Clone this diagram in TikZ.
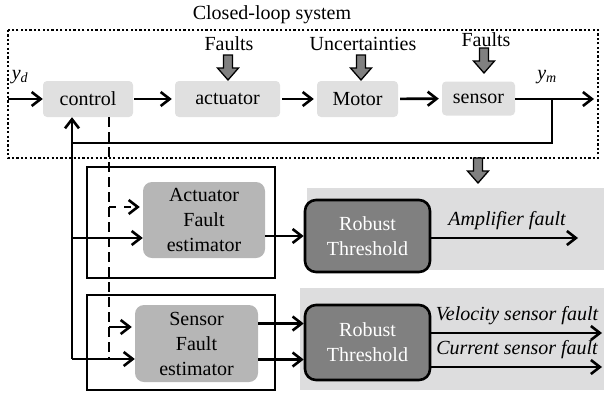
\documentclass[tikz,border=0pt]{standalone}
\usepackage{fontspec}
\setmainfont{Liberation Serif}
\usetikzlibrary{arrows.meta,calc}

\begin{document}
\begin{tikzpicture}[x=1pt, y=-1pt, font=\rmfamily\fontsize{20}{25}\selectfont,
    line/.style={line width=2.6pt},
    arr/.style={line, -{Straight Barb[length=9pt,width=14pt,line width=2.6pt]}},
    blockbox/.style={fill=boxgray, rounded corners=4pt, minimum height=36pt, inner sep=0pt},
    estbox/.style={fill=estgray, rounded corners=9pt, minimum width=122pt, minimum height=76pt, align=center, inner sep=0pt},
    threshbox/.style={draw, line width=2.6pt, fill=threshgray, text=white, rounded corners=11pt, minimum width=125pt, align=center, inner sep=0pt},
    outlbl/.style={font=\rmfamily\fontsize{20}{25}\selectfont\itshape},
    blockarrow/.pic={\draw[line width=1.3pt, fill=threshgray] (-4.5,0) -- (-4.5,13) -- (-10.5,13) -- (0,25) -- (10.5,13) -- (4.5,13) -- (4.5,0) -- cycle;}]
    % Define colors
    \definecolor{boxgray}{RGB}{224,224,224}
    \definecolor{bggray}{RGB}{221,221,222}
    \definecolor{estgray}{RGB}{182,182,182}
    \definecolor{threshgray}{RGB}{128,128,128}

    \useasboundingbox (0,0) rectangle (604,399);

    % Closed-loop system
    \node (title) at (272,15) {Closed-loop system};
    \draw[line width=2.2pt, dash pattern=on 2.2pt off 2.2pt] (8,30) rectangle (598,158);

    \node[blockbox, minimum width=90pt] (ctrl) at (88,99) {control};
    \node[blockbox, minimum width=105pt] (act) at (227.5,99) {actuator};
    \node[blockbox, minimum width=81pt] (motor) at (357.5,99) {Motor};
    \node[blockbox, minimum width=73pt, minimum height=34pt] (sens) at (478.5,98.5) {sensor};

    \node (yd) at (20,77) {\textit{y}\textsubscript{\textit{d}}};
    \node (ym) at (547,77) {\textit{y}\textsubscript{\textit{m}}};

    \coordinate (in) at (8,99);
    \coordinate (out) at (594,99);
    \draw[arr] (in) -- (ctrl.west);
    \draw[arr, shorten <=1pt, shorten >=3pt] (ctrl) -- (act);
    \draw[arr, shorten <=2pt, shorten >=3pt] (act) -- (motor);
    \draw[arr, shorten <=2pt, shorten >=3pt] (motor) -- (sens);
    \draw[arr] (sens.east |- out) -- (out);

    % Disturbances
    \node (flt1) at (229,44) {Faults};
    \node (unc) at (363,44) {Uncertainties};
    \node (flt2) at (486,40) {Faults};
    \pic at (228,55) {blockarrow};
    \pic at (361,55) {blockarrow};
    \pic at (484,48) {blockarrow};

    % Feedback
    \coordinate (tap) at (552,99);
    \coordinate (fb) at (72,143);
    \coordinate (fbend) at (72,359);
    \coordinate (fa) at (72,238);
    \draw[arr] (tap) |- (fb) -- (fb |- ctrl.south);
    \draw[line] (fb) -- (fbend);

    % Fault estimators
    \draw[line width=2.4pt] (87,167) rectangle (275,278);
    \draw[line width=2.4pt] (87,295) rectangle (275,390);
    \node[estbox] (afe) at (204,220) {Actuator\\Fault\\estimator};
    \node[estbox, minimum width=123pt, minimum height=77pt] (sfe) at (196.5,343.5) {Sensor\\Fault\\estimator};

    \draw[arr] (fa) -- (fa -| afe.west);
    \draw[arr] (fbend) -- (fbend -| sfe.west);

    \coordinate (dtop) at (109,117);
    \coordinate (dbot) at (109,359);
    \coordinate (da) at (109,207);
    \coordinate (ds) at (109,327);
    \draw[line, dash pattern=on 10pt off 5pt] (dtop) -- (dbot);
    \draw[arr, dash pattern=on 7pt off 8pt] (da) -- ($(da -| afe.west)+(-3,0)$);
    \draw[arr] (ds) -- ($(ds -| sfe.west)+(-3,0)$);

    % Robust thresholds
    \pic at (478,158) {blockarrow};
    \fill[bggray] (307,188) rectangle (604,270);
    \fill[bggray] (300,288) rectangle (604,390);
    \node[threshbox, minimum height=72pt] (rt1) at (367.5,236) {Robust\\Threshold};
    \node[threshbox, minimum height=75pt] (rt2) at (367.5,342.5) {Robust\\Threshold};

    \draw[arr] (afe.east |- rt1.west) -- (rt1.west);
    \coordinate (s1) at ([yshift=19pt]rt2.west);
    \coordinate (s2) at ([yshift=-17pt]rt2.west);
    \draw[arr] (s1 -| sfe.east) -- (s1);
    \draw[arr] (s2 -| sfe.east) -- (s2);

    % Fault outputs
    \coordinate (ampout) at (578,238);
    \coordinate (velout) at (602,333);
    \coordinate (curout) at (602,367);
    \draw[arr, line width=1.8pt] (rt1.east |- ampout) -- (ampout);
    \draw[arr] (rt2.east |- velout) -- (velout);
    \draw[arr] (rt2.east |- curout) -- (curout);
    \node[outlbl] (amp) at (507,221) {Amplifier fault};
    \node[outlbl] (vel) at (517,316) {Velocity sensor fault};
    \node[outlbl] (cur) at (517,350) {Current sensor fault};
\end{tikzpicture}
\end{document}
